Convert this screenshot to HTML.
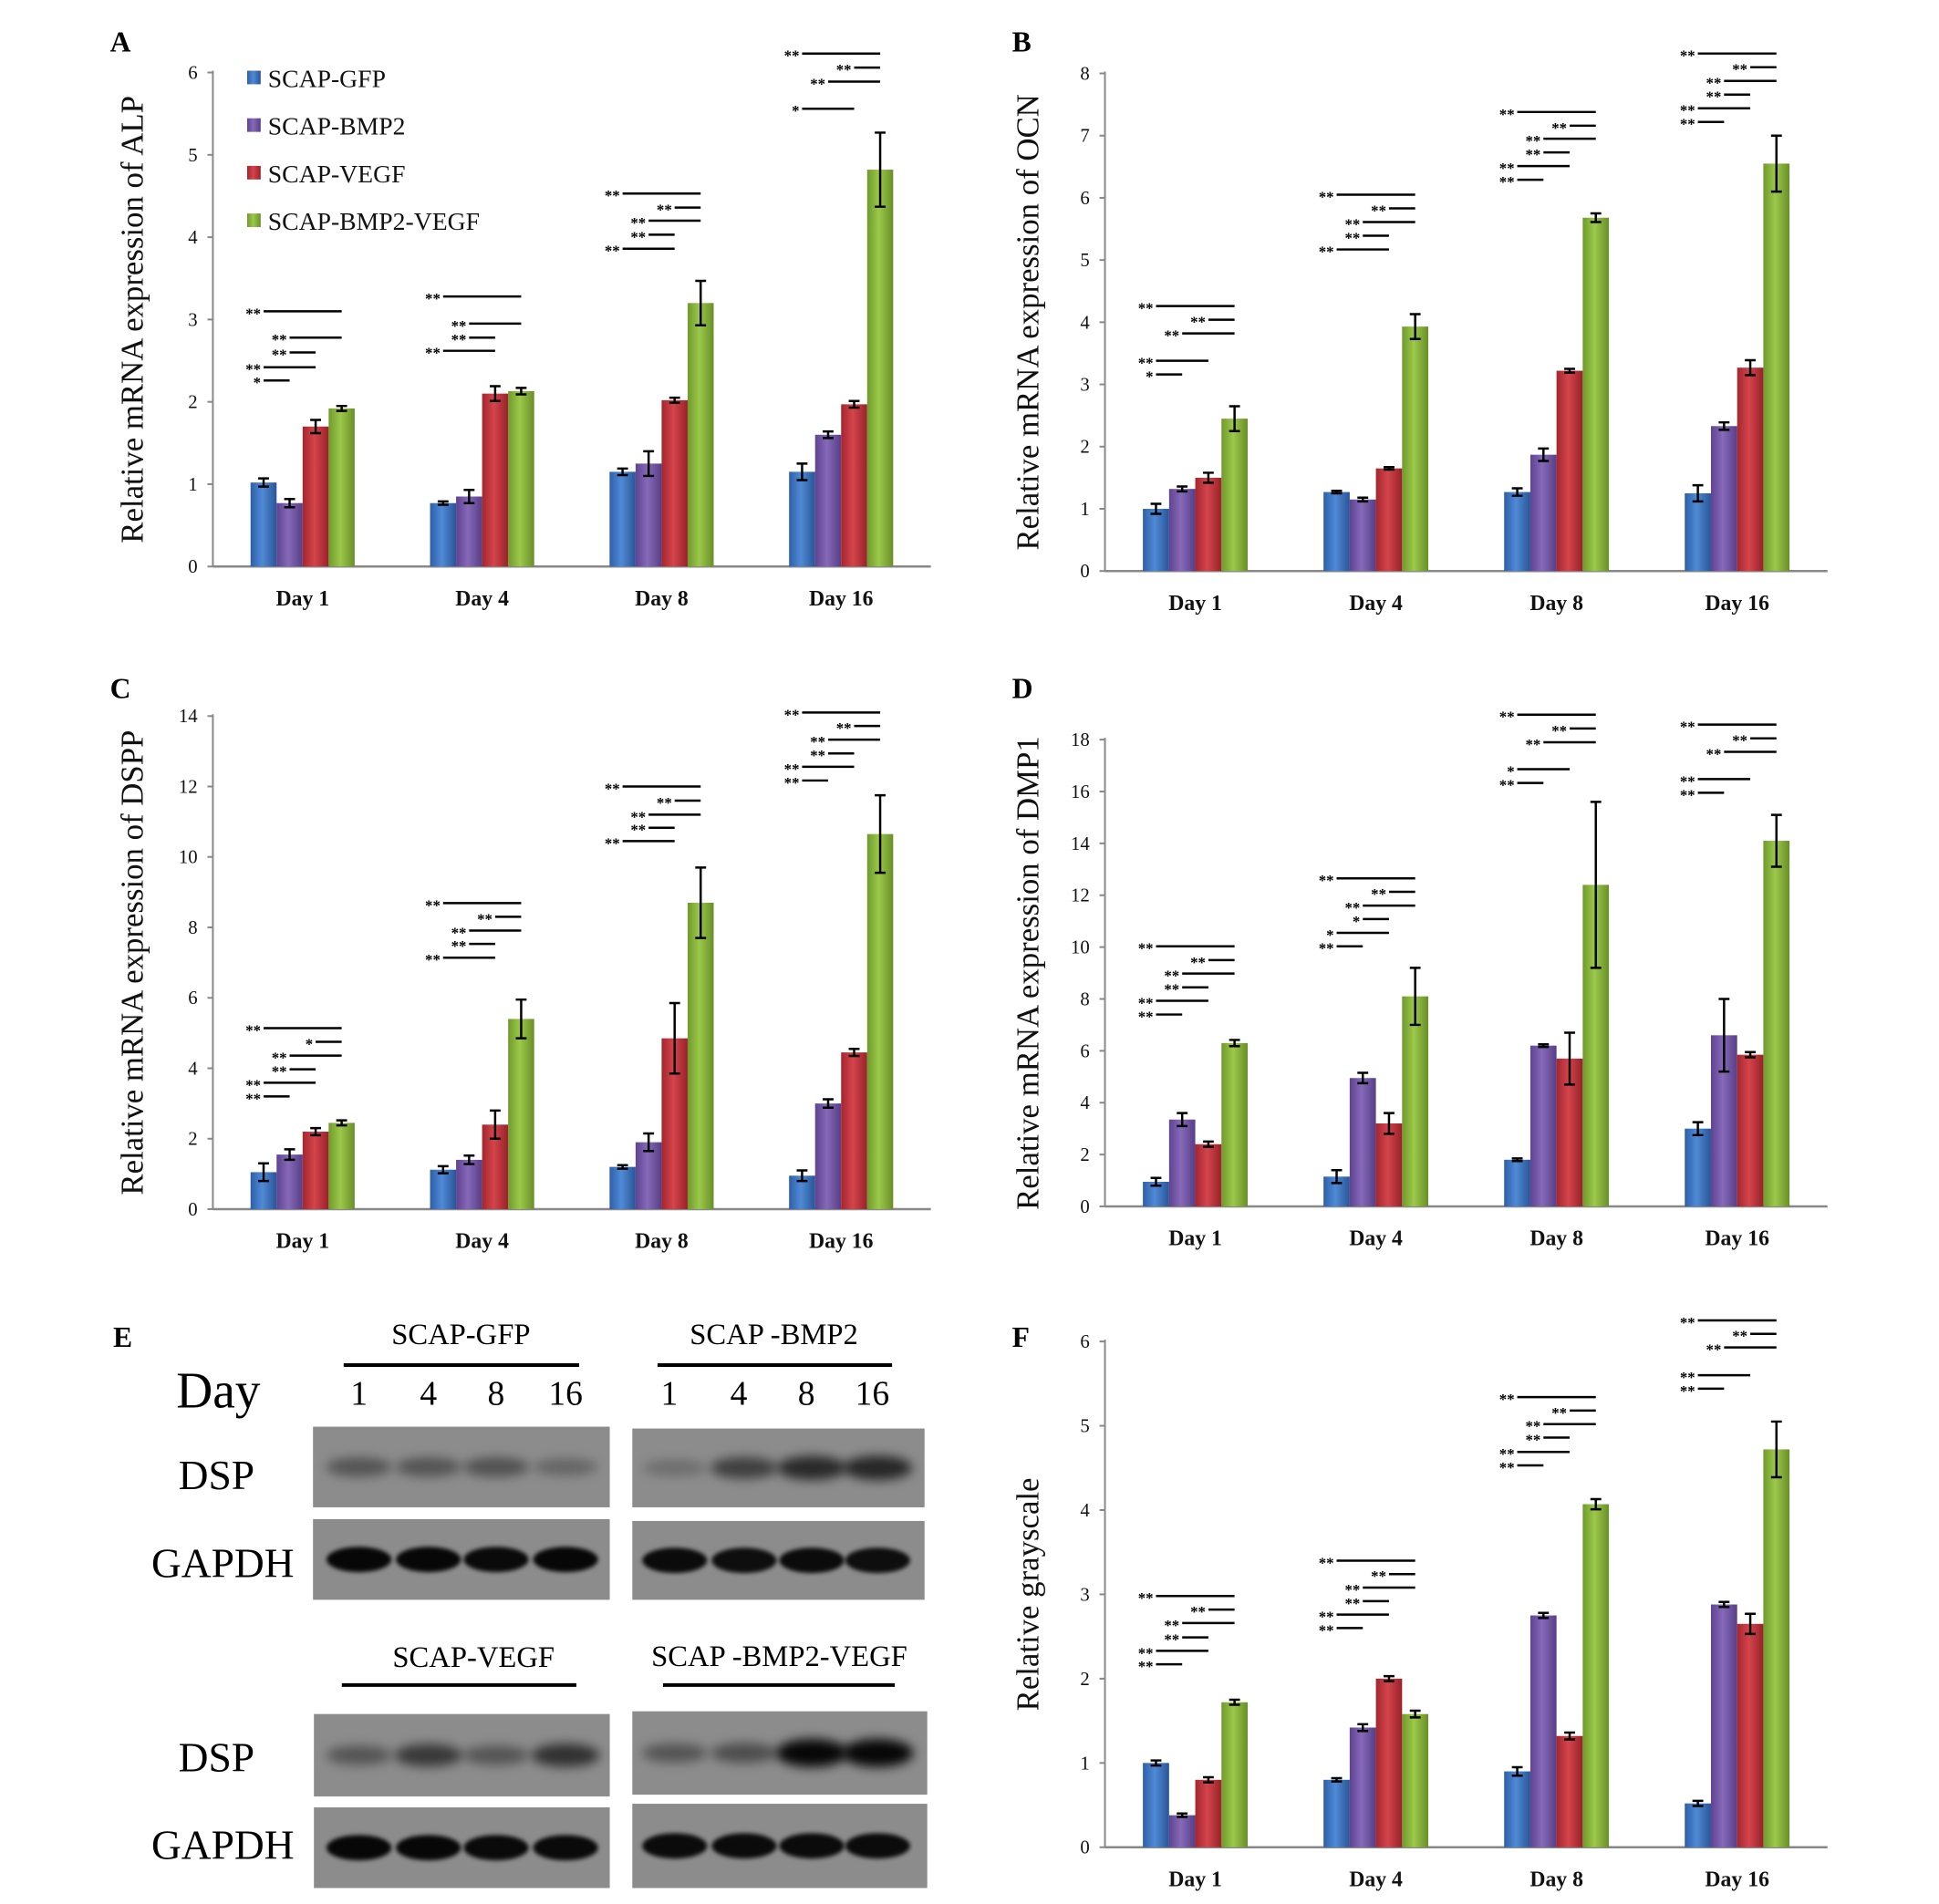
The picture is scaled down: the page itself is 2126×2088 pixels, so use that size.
<!DOCTYPE html>
<html><head><meta charset="utf-8">
<style>
html,body{margin:0;padding:0;background:#fff;}
svg{display:block;font-family:"Liberation Serif",serif;}
</style></head>
<body>
<svg id="fig" width="2126" height="2088" viewBox="0 0 2126 2088" xmlns="http://www.w3.org/2000/svg">
<defs>
<linearGradient id="g0" x1="0" x2="1" y1="0" y2="0"><stop offset="0" stop-color="#2e5fa8"/><stop offset="0.45" stop-color="#4f8ad6"/><stop offset="1" stop-color="#2a5596"/></linearGradient>
<linearGradient id="g1" x1="0" x2="1" y1="0" y2="0"><stop offset="0" stop-color="#5e4391"/><stop offset="0.45" stop-color="#8669b8"/><stop offset="1" stop-color="#573e86"/></linearGradient>
<linearGradient id="g2" x1="0" x2="1" y1="0" y2="0"><stop offset="0" stop-color="#a3262e"/><stop offset="0.45" stop-color="#d4444b"/><stop offset="1" stop-color="#98222a"/></linearGradient>
<linearGradient id="g3" x1="0" x2="1" y1="0" y2="0"><stop offset="0" stop-color="#6f9a2c"/><stop offset="0.45" stop-color="#9cc84a"/><stop offset="1" stop-color="#688f28"/></linearGradient>
<filter id="blur" x="-30%" y="-60%" width="160%" height="220%"><feGaussianBlur stdDeviation="6"/></filter>
<filter id="blur2" x="-30%" y="-60%" width="160%" height="220%"><feGaussianBlur stdDeviation="2.5"/></filter>
</defs>
<g id="root" transform="scale(0.989 0.994)"></g>
</svg>
<script>
const days = ["Day 1","Day 4","Day 8","Day 16"];
const seriesNames = ["SCAP-GFP","SCAP-BMP2","SCAP-VEGF","SCAP-BMP2-VEGF"];

const alpTicks = [0,1,2,3,4,5,6];
const alpGFP = [1.02,0.77,1.15,1.15];
const alpBMP2 = [0.77,0.85,1.25,1.6];
const alpVEGF = [1.7,2.1,2.02,1.97];
const alpBV = [1.92,2.13,3.2,4.82];
const alpErrGFP = [0.05,0.02,0.04,0.1];
const alpErrBMP2 = [0.05,0.08,0.15,0.04];
const alpErrVEGF = [0.08,0.09,0.03,0.04];
const alpErrBV = [0.03,0.04,0.27,0.45];
const alpSig = [[0,"**",0,3,3.1],[0,"**",1,3,2.78],[0,"**",1,2,2.6],[0,"**",0,2,2.42],[0,"*",0,1,2.26],
 [1,"**",0,3,3.28],[1,"**",1,3,2.95],[1,"**",1,2,2.78],[1,"**",0,2,2.62],
 [2,"**",0,3,4.53],[2,"**",2,3,4.36],[2,"**",1,3,4.2],[2,"**",1,2,4.03],[2,"**",0,2,3.86],
 [3,"**",0,3,6.23],[3,"**",2,3,6.06],[3,"**",1,3,5.89],[3,"*",0,2,5.56]];

const ocnTicks = [0,1,2,3,4,5,6,7,8];
const ocnGFP = [1.0,1.27,1.27,1.25];
const ocnBMP2 = [1.32,1.15,1.87,2.33];
const ocnVEGF = [1.5,1.65,3.22,3.27];
const ocnBV = [2.45,3.93,5.68,6.55];
const ocnErrGFP = [0.08,0.02,0.06,0.13];
const ocnErrBMP2 = [0.04,0.03,0.1,0.06];
const ocnErrVEGF = [0.08,0.02,0.03,0.12];
const ocnErrBV = [0.2,0.2,0.07,0.45];
const ocnSig = [[0,"**",0,3,4.26],[0,"**",2,3,4.04],[0,"**",1,3,3.82],[0,"**",0,2,3.38],[0,"*",0,1,3.16],
 [1,"**",0,3,6.05],[1,"**",2,3,5.83],[1,"**",1,3,5.61],[1,"**",1,2,5.39],[1,"**",0,2,5.17],
 [2,"**",0,3,7.38],[2,"**",2,3,7.16],[2,"**",1,3,6.95],[2,"**",1,2,6.73],[2,"**",0,2,6.51],[2,"**",0,1,6.29],
 [3,"**",0,3,8.32],[3,"**",2,3,8.1],[3,"**",1,3,7.88],[3,"**",1,2,7.66],[3,"**",0,2,7.44],[3,"**",0,1,7.22]];

const dsppTicks = [0,2,4,6,8,10,12,14];
const dsppGFP = [1.05,1.12,1.2,0.95];
const dsppBMP2 = [1.55,1.4,1.9,3.0];
const dsppVEGF = [2.2,2.4,4.85,4.45];
const dsppBV = [2.45,5.4,8.7,10.65];
const dsppErrGFP = [0.25,0.1,0.05,0.15];
const dsppErrBMP2 = [0.15,0.12,0.25,0.12];
const dsppErrVEGF = [0.1,0.4,1.0,0.1];
const dsppErrBV = [0.07,0.55,1.0,1.1];
const dsppSig = [[0,"**",0,3,5.14],[0,"*",2,3,4.75],[0,"**",1,3,4.36],[0,"**",1,2,3.97],[0,"**",0,2,3.59],[0,"**",0,1,3.2],
 [1,"**",0,3,8.69],[1,"**",2,3,8.3],[1,"**",1,3,7.91],[1,"**",1,2,7.53],[1,"**",0,2,7.14],
 [2,"**",0,3,12.0],[2,"**",2,3,11.6],[2,"**",1,3,11.2],[2,"**",1,2,10.83],[2,"**",0,2,10.45],
 [3,"**",0,3,14.1],[3,"**",2,3,13.72],[3,"**",1,3,13.33],[3,"**",1,2,12.94],[3,"**",0,2,12.56],[3,"**",0,1,12.17]];

const dmpTicks = [0,2,4,6,8,10,12,14,16,18];
const dmpGFP = [0.95,1.15,1.8,3.0];
const dmpBMP2 = [3.35,4.95,6.2,6.6];
const dmpVEGF = [2.4,3.2,5.7,5.85];
const dmpBV = [6.3,8.1,12.4,14.1];
const dmpErrGFP = [0.15,0.25,0.05,0.25];
const dmpErrBMP2 = [0.25,0.2,0.05,1.4];
const dmpErrVEGF = [0.1,0.4,1.0,0.1];
const dmpErrBV = [0.12,1.1,3.2,1.0];
const dmpSig = [[0,"**",0,3,10.03],[0,"**",2,3,9.5],[0,"**",1,3,8.98],[0,"**",1,2,8.45],[0,"**",0,2,7.93],[0,"**",0,1,7.4],
 [1,"**",0,3,12.65],[1,"**",2,3,12.13],[1,"**",1,3,11.6],[1,"*",1,2,11.08],[1,"*",0,2,10.55],[1,"**",0,1,10.03],
 [2,"**",0,3,18.96],[2,"**",2,3,18.43],[2,"**",1,3,17.9],[2,"*",0,2,16.86],[2,"**",0,1,16.33],
 [3,"**",0,3,18.58],[3,"**",2,3,18.05],[3,"**",1,3,17.53],[3,"**",0,2,16.48],[3,"**",0,1,15.95]];

const grayTicks = [0,1,2,3,4,5,6];
const grayGFP = [1.0,0.8,0.9,0.52];
const grayBMP2 = [0.38,1.42,2.75,2.88];
const grayVEGF = [0.8,2.0,1.32,2.65];
const grayBV = [1.72,1.58,4.07,4.72];
const grayErrGFP = [0.03,0.02,0.05,0.03];
const grayErrBMP2 = [0.02,0.04,0.03,0.03];
const grayErrVEGF = [0.03,0.03,0.04,0.12];
const grayErrBV = [0.03,0.04,0.06,0.33];
const graySig = [[0,"**",0,3,2.98],[0,"**",2,3,2.82],[0,"**",1,3,2.66],[0,"**",1,2,2.49],[0,"**",0,2,2.33],[0,"**",0,1,2.17],
 [1,"**",0,3,3.4],[1,"**",2,3,3.24],[1,"**",1,3,3.08],[1,"**",1,2,2.92],[1,"**",0,2,2.76],[1,"**",0,1,2.6],
 [2,"**",0,3,5.34],[2,"**",2,3,5.18],[2,"**",1,3,5.02],[2,"**",1,2,4.86],[2,"**",0,2,4.69],[2,"**",0,1,4.53],
 [3,"**",0,3,6.25],[3,"**",2,3,6.09],[3,"**",1,3,5.93],[3,"**",0,2,5.6],[3,"**",0,1,5.44]];

const dspGFP = [0.4,0.4,0.42,0.28];
const dspBMP2 = [0.22,0.55,0.7,0.72];
const dspVEGF = [0.4,0.6,0.4,0.65];
const dspBV = [0.4,0.45,0.95,0.95];
const gapdhGFP = [0.95,0.95,0.93,0.95];
const gapdhBMP2 = [0.92,0.9,0.92,0.9];
const gapdhVEGF = [0.95,0.95,0.93,0.93];
const gapdhBV = [0.92,0.92,0.92,0.92];
const laneLabels = ["1","4","8","16"];

const NS = "http://www.w3.org/2000/svg";
const svg = document.getElementById("root");
function mk(tag, attrs, parent){
  const e = document.createElementNS(NS, tag);
  for (const k in attrs) e.setAttribute(k, attrs[k]);
  (parent||svg).appendChild(e);
  return e;
}

function panel(cfg){
  const g = mk("g", {});
  
  
  const max = cfg.ticks[cfg.ticks.length-1];
  const yS = v => cfg.y0 - (v/max)*(cfg.y0-cfg.yTop);
  const band = (cfg.xEnd - cfg.x0)/days.length;
  const bw = band*0.145;
  const barX = (d,s) => cfg.x0 + band*d + band/2 - 2*bw + s*bw;
  const barC = (d,s) => barX(d,s) + bw/2;
  const ya = mk("line",{x1:cfg.x0,y1:cfg.yTop-2,x2:cfg.x0,y2:cfg.y0,stroke:"#888","stroke-width":2},g);
  
  
  const xa = mk("line",{x1:cfg.x0,y1:cfg.y0,x2:cfg.xEnd,y2:cfg.y0,stroke:"#888","stroke-width":2.5},g);
  
  
  cfg.ticks.forEach(t=>{
    const y = yS(t);
    mk("line",{x1:cfg.x0-6,y1:y,x2:cfg.x0,y2:y,stroke:"#888","stroke-width":2},g);
    const tl = mk("text",{x:cfg.x0-17,y:y+7,"text-anchor":"end","font-size":21,fill:"#111"},g);
    tl.textContent = t;
    
    
  });
  days.forEach((d,i)=>{
    const t = mk("text",{x:cfg.x0+band*i+band/2,y:cfg.y0+43,"text-anchor":"middle","font-size":24,"font-weight":"bold",fill:"#111"},g);
    t.textContent = d;
    
    
  });
  cfg.series.forEach((vals,s)=>{
    vals.forEach((v,d)=>{
      const x = barX(d,s), y = yS(v);
      const r = mk("rect",{x:x,y:y,width:bw,height:cfg.y0-y,fill:"url(#g"+s+")"},g);
      
      
      const e = cfg.errs[s][d];
      const cx = x+bw/2, top = yS(v+e), bot = yS(v-e);
      const eb = mk("path",{d:`M${cx} ${top}V${bot}M${cx-6} ${top}H${cx+6}M${cx-6} ${bot}H${cx+6}`,stroke:"#000","stroke-width":2.5,fill:"none"},g);
      
      
    });
  });
  cfg.sig.forEach(a=>{
    const [d,lab,i,j,lvl] = a;
    const x1 = barC(d,i), x2 = barC(d,j), y = yS(lvl);
    const ln = mk("line",{x1:x1,y1:y,x2:x2,y2:y,stroke:"#000","stroke-width":2.5},g);
    
    
    const st = mk("text",{x:x1-3,y:y+8,"text-anchor":"end","font-size":17,"font-weight":"bold",fill:"#000"},g);
    st.textContent = lab;
    
    
  });
  const cy = (cfg.y0+cfg.yTop)/2;
  const tt = mk("text",{x:cfg.titleX,y:cy,"text-anchor":"middle","font-size":cfg.titleSize||35,fill:"#111",transform:`rotate(-90 ${cfg.titleX} ${cy})`,dy:"11"},g);
  tt.textContent = cfg.title;
  
  
  const lt = mk("text",{x:cfg.letterX,y:cfg.letterY,"font-size":32,"font-weight":"bold",fill:"#000"},g);
  lt.textContent = cfg.letter;
  
  
}

panel({name:"panel-a-alp-chart",letter:"A",letterX:122,letterY:57,title:"Relative mRNA expression of ALP",titleX:147,
  x0:236,xEnd:1032,y0:625,yTop:80,ticks:alpTicks,series:[alpGFP,alpBMP2,alpVEGF,alpBV],errs:[alpErrGFP,alpErrBMP2,alpErrVEGF,alpErrBV],sig:alpSig});
panel({name:"panel-b-ocn-chart",letter:"B",letterX:1122,letterY:57,title:"Relative mRNA expression of OCN",titleX:1140,
  x0:1225,xEnd:2026,y0:630,yTop:81,ticks:ocnTicks,series:[ocnGFP,ocnBMP2,ocnVEGF,ocnBV],errs:[ocnErrGFP,ocnErrBMP2,ocnErrVEGF,ocnErrBV],sig:ocnSig});
panel({name:"panel-c-dspp-chart",letter:"C",letterX:122,letterY:770,title:"Relative mRNA expression of DSPP",titleX:147,
  x0:236,xEnd:1032,y0:1334,yTop:790,ticks:dsppTicks,series:[dsppGFP,dsppBMP2,dsppVEGF,dsppBV],errs:[dsppErrGFP,dsppErrBMP2,dsppErrVEGF,dsppErrBV],sig:dsppSig});
panel({name:"panel-d-dmp1-chart",letter:"D",letterX:1122,letterY:770,title:"Relative mRNA expression of DMP1",titleX:1140,
  x0:1225,xEnd:2026,y0:1331,yTop:816,ticks:dmpTicks,series:[dmpGFP,dmpBMP2,dmpVEGF,dmpBV],errs:[dmpErrGFP,dmpErrBMP2,dmpErrVEGF,dmpErrBV],sig:dmpSig});
panel({name:"panel-f-grayscale-chart",letter:"F",letterX:1122,letterY:1486,title:"Relative grayscale",titleX:1140,
  x0:1225,xEnd:2026,y0:2038,yTop:1480,ticks:grayTicks,series:[grayGFP,grayBMP2,grayVEGF,grayBV],errs:[grayErrGFP,grayErrBMP2,grayErrVEGF,grayErrBV],sig:graySig});

seriesNames.forEach((n,i)=>{
  const y = 87 + i*52.5;
  const sq = mk("rect",{x:274,y:y-9,width:15,height:15,fill:"url(#g"+i+")"});
  
  
  const t = mk("text",{x:297,y:y+9,"font-size":28,fill:"#111"});
  t.textContent = n;
  
  
});

const eg = mk("g",{});


function txt(x,y,s,size,name,extra){
  const t = mk("text",Object.assign({x:x,y:y,"font-size":size,fill:"#000","text-anchor":"middle"},extra||{}),eg);
  t.textContent = s;
  
  
  return t;
}
txt(136,1486,"E",32,"panel-letter",{"font-weight":"bold"});
function blot(x,y,w,h,vals,lanes,thick){
  const r = mk("rect",{x:x,y:y,width:w,height:h,fill:"#8c8c8c"},eg);
  
  
  vals.forEach((v,i)=>{
    const cx = lanes[i];
    const bh = thick ? 28 : 14 + v*18;
    const e = mk("ellipse",{cx:cx,cy:y+h/2,rx:34+(thick?2:v*6),ry:bh/2,fill:"#000","fill-opacity":v,filter:thick?"url(#blur2)":"url(#blur)"},eg);
    
    
  });
}
const lanesL = [398,475,550,627];
const lanesR = [748,825,900,973];
blot(347,1574,329,89,dspGFP,lanesL,false);
blot(347,1676,329,89,gapdhGFP,lanesL,true);
blot(701,1576,324,87,dspBMP2,lanesR,false);
blot(701,1678,324,87,gapdhBMP2,lanesR,true);
blot(348,1891,328,91,dspVEGF,lanesL,false);
blot(348,1994,328,89,gapdhVEGF,lanesL,true);
blot(701,1888,327,92,dspBV,lanesR,false);
blot(701,1990,327,93,gapdhBV,lanesR,true);

txt(511,1483,"SCAP-GFP",33,"group-label-scap-gfp");
txt(858,1483,"SCAP -BMP2",33,"group-label-scap-bmp2");
txt(525,1839,"SCAP-VEGF",33,"group-label-scap-vegf");
txt(864,1838,"SCAP -BMP2-VEGF",33,"group-label-scap-bmp2-vegf");
[[381,642,1506],[729,989,1506],[379,639,1859],[735,992,1859]].forEach(l=>{
  const ln = mk("line",{x1:l[0],y1:l[2],x2:l[1],y2:l[2],stroke:"#000","stroke-width":4},eg);
  
  
});
txt(242,1553,"Day",56,"day-label");
laneLabels.forEach((s,i)=>{ txt(lanesL[i],1550,s,38,"lane-label"); txt(lanesR[i]-6,1550,s,38,"lane-label"); });
txt(240,1643,"DSP",46,"dsp-label");
txt(247,1740,"GAPDH",46,"gapdh-label");
txt(240,1954,"DSP",46,"dsp-label");
txt(247,2051,"GAPDH",46,"gapdh-label");
</script>
</body></html>
